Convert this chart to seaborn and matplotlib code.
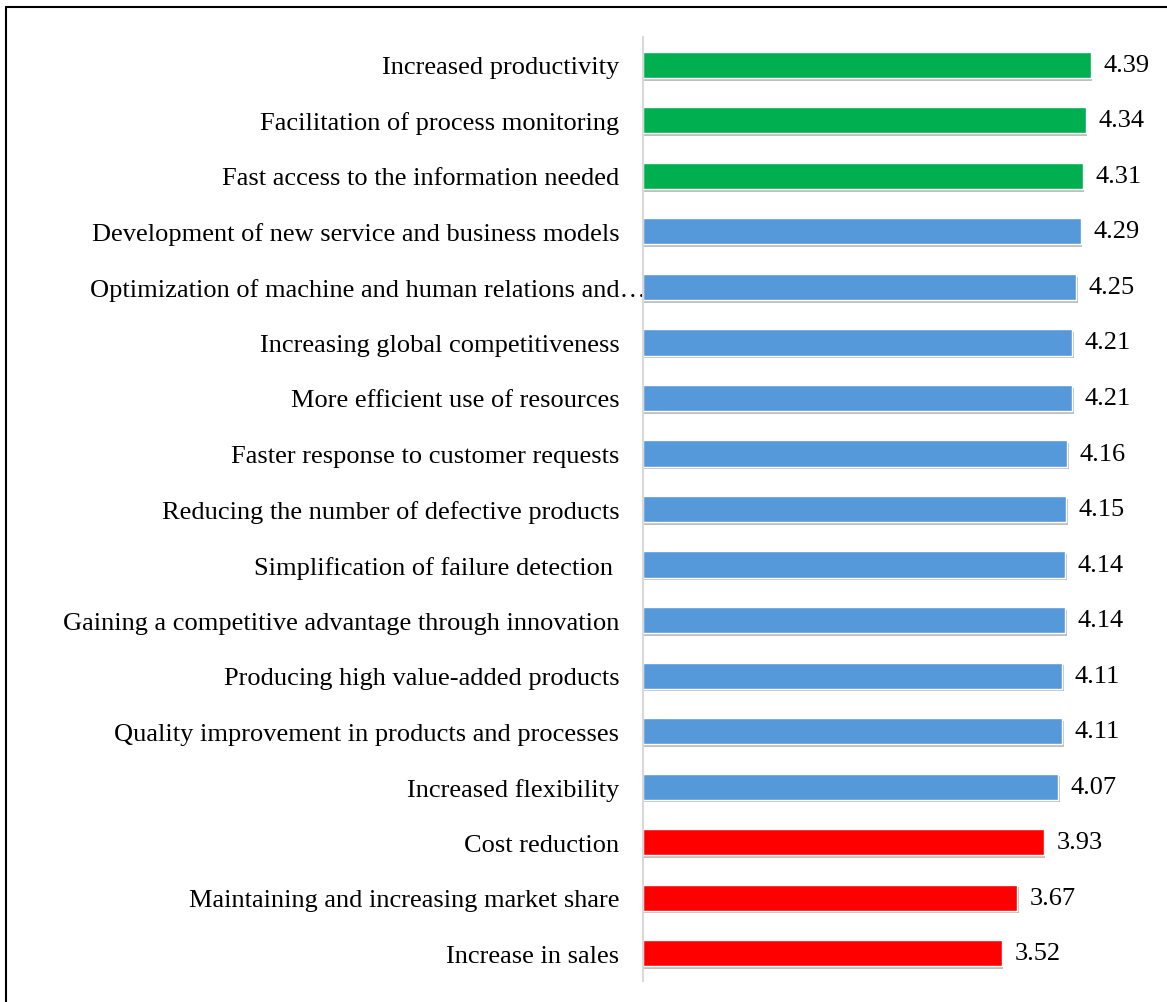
import pandas as pd
import matplotlib.pyplot as plt
import matplotlib.patheffects as pe
import matplotlib.transforms as mtransforms
from matplotlib.lines import Line2D
import seaborn as sns

# Benefits of Industry 4.0 (mean scores)
items = [
    'Increased productivity',
    'Facilitation of process monitoring',
    'Fast access to the information needed',
    'Development of new service and business models',
    'Optimization of machine and human relations and…',
    'Increasing global competitiveness',
    'More efficient use of resources',
    'Faster response to customer requests',
    'Reducing the number of defective products',
    'Simplification of failure detection ',
    'Gaining a competitive advantage through innovation',
    'Producing high value-added products',
    'Quality improvement in products and processes',
    'Increased flexibility',
    'Cost reduction',
    'Maintaining and increasing market share',
    'Increase in sales',
]
scores = [4.39, 4.34, 4.31, 4.29, 4.25, 4.21, 4.21, 4.16, 4.15,
          4.14, 4.14, 4.11, 4.11, 4.07, 3.93, 3.67, 3.52]
groups = ['top'] * 3 + ['mid'] * 11 + ['low'] * 3
group_colors = {'top': '#00B050', 'mid': '#5599DB', 'low': '#FF0000'}

df = pd.DataFrame({'item': items, 'score': scores, 'group': groups})

sns.set_style('white')
plt.rcParams['font.family'] = ['Liberation Serif', 'DejaVu Serif']

fig = plt.figure(figsize=(11.67, 10.03), dpi=100)
ax = fig.add_axes([0.551, 0.021, 0.437, 0.941])

sns.barplot(data=df, x='score', y='item', hue='group', palette=group_colors,
            order=items, hue_order=['top', 'mid', 'low'], dodge=False,
            width=0.47, saturation=1, legend=False, ax=ax)

shadow = [pe.SimplePatchShadow(offset=(1, -2), shadow_rgbFace='black', alpha=0.25), pe.Normal()]
for bar in ax.patches:
    bar.set_path_effects(shadow)

for c in ax.containers:
    ax.bar_label(c, fmt='%.2f', padding=9, fontsize=19, color='black')

ax.set_xlim(0, 5)
ax.set_ylim(len(items) - 0.5, -0.5)
ax.set_xlabel('')
ax.set_ylabel('')
ax.set_xticks([])
ax.tick_params(axis='y', length=0, pad=17, labelsize=19, labelcolor='black')

for side in ['top', 'right', 'bottom']:
    ax.spines[side].set_visible(False)
ax.spines['left'].set_color('#D9D9D9')
ax.spines['left'].set_linewidth(1.5)

# the truncated label runs right up to the axis line
for lbl in ax.get_yticklabels():
    if lbl.get_text().startswith('Optimization'):
        lbl.set_transform(lbl.get_transform() + mtransforms.ScaledTranslation(27 / 100, 0, fig.dpi_scale_trans))

# frame on the left and top edge
fig.add_artist(Line2D([6 / 1167, 6 / 1167], [0, 1 - 8 / 1003], transform=fig.transFigure, color='black', lw=1.5))
fig.add_artist(Line2D([6 / 1167, 1], [1 - 8 / 1003, 1 - 8 / 1003], transform=fig.transFigure, color='black', lw=1.5))

fig.savefig('out.png', dpi=100)
